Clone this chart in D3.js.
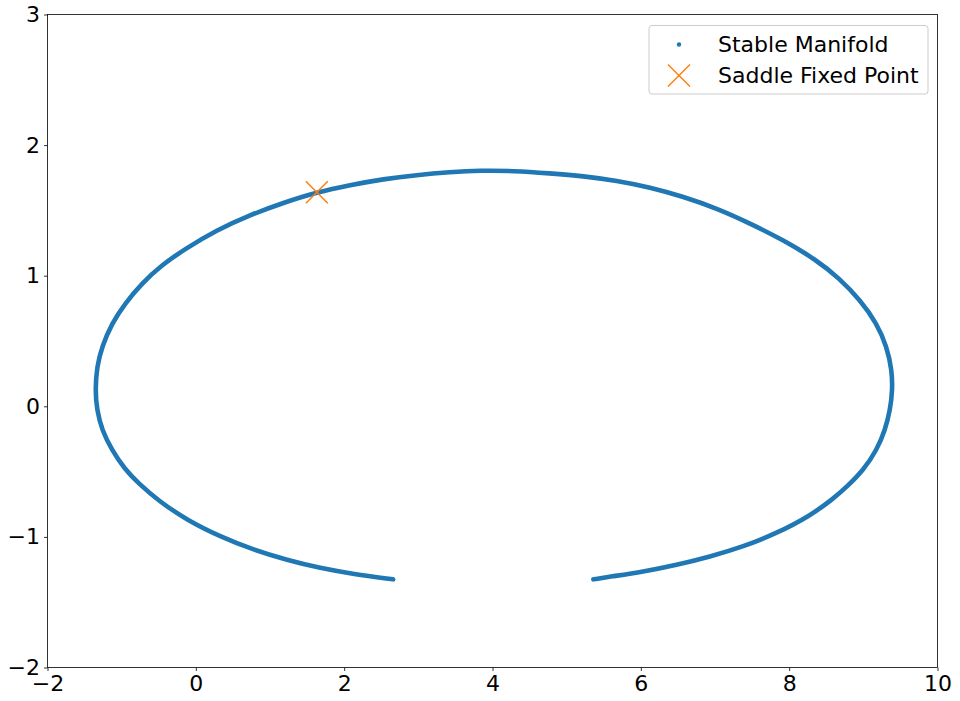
<!DOCTYPE html>
<html>
<head>
<meta charset="utf-8">
<script src="https://cdn.jsdelivr.net/npm/d3@7"></script>
<style>
  body { margin: 0; background: #fff; }
  text { font-family: "DejaVu Sans", sans-serif; }
</style>
</head>
<body>
<script>
// manifold points, ordered from the left tip round to the right tip
const manifoldX = [2.66, 2.12, 1.68, 1.23, 0.78, 0.33, -0.12, -0.50, -0.774, -0.96, -1.132, -1.267, -1.334, -1.357, -1.334, -1.267, -1.132, -0.953, -0.728, -0.458, -0.167, 0.283, 0.732, 1.181, 1.631, 2.08, 2.528, 2.978, 3.427, 3.83, 4.28, 4.774, 5.224, 5.674, 6.123, 6.572, 7.022, 7.471, 7.92, 8.369, 8.676, 8.957, 9.182, 9.317, 9.385, 9.393, 9.362, 9.294, 9.182, 9.002, 8.778, 8.60, 8.28, 7.83, 7.38, 6.93, 6.48, 6.03, 5.58, 5.36]
const manifoldY = [-1.325, -1.284, -1.24, -1.177, -1.10, -0.998, -0.871, -0.725, -0.59, -0.48, -0.335, -0.181, -0.028, 0.125, 0.303, 0.456, 0.636, 0.789, 0.942, 1.082, 1.197, 1.35, 1.465, 1.559, 1.639, 1.694, 1.74, 1.771, 1.793, 1.806, 1.803, 1.784, 1.763, 1.727, 1.677, 1.605, 1.516, 1.401, 1.273, 1.12, 0.98, 0.814, 0.636, 0.456, 0.278, 0.125, -0.028, -0.181, -0.335, -0.488, -0.616, -0.705, -0.84, -0.973, -1.075, -1.152, -1.215, -1.267, -1.305, -1.325]
const saddle = [1.631, 1.639]
const xTicks = [-2, 0, 2, 4, 6, 8, 10]
const yTicks = [-2, -1, 0, 1, 2, 3]
const legendLabels = ["Stable Manifold", "Saddle Fixed Point"]

let width = 960
let height = 701
let margin = { top: 14.5, right: 22.5, bottom: 33.5, left: 47.5 }

const blue = "#1f77b4"
const orange = "#ff7f0e"

const svg = d3.select("body")
  .append("svg")
  .attr("width", width)
  .attr("height", height)

var x = d3.scaleLinear()
  .domain([-2, 10])
  .range([margin.left, width - margin.right])

var y = d3.scaleLinear()
  .domain([-2, 3])
  .range([height - margin.bottom, margin.top])

// axes
const fmt = d => String(d).replace("-", "\u2212")

svg.append("g")
  .attr("transform", `translate(0,${height - margin.bottom})`)
  .call(d3.axisBottom(x).tickValues(xTicks).tickFormat(fmt).tickSizeOuter(0).tickSize(3.5).tickPadding(4))
svg.append("g")
  .attr("transform", `translate(${margin.left},0)`)
  .call(d3.axisLeft(y).tickValues(yTicks).tickFormat(fmt).tickSizeOuter(0).tickSize(3.5).tickPadding(4))

svg.selectAll(".tick text")
  .style("font-family", "DejaVu Sans")
  .style("font-size", "22px")
  .attr("fill", "#000")
svg.selectAll(".domain").remove()
svg.selectAll(".tick line").attr("stroke", "#000").attr("stroke-width", 0.8)

// frame
svg.append("rect")
  .attr("x", x(-2))
  .attr("y", y(3))
  .attr("width", x(10) - x(-2))
  .attr("height", y(-2) - y(3))
  .attr("fill", "none")
  .attr("stroke", "#000")
  .attr("stroke-width", 0.8)

// stable manifold (dense dots, drawn as a thick band)
const pts = manifoldX.map((d, i) => [d, manifoldY[i]])
const line = d3.line()
  .x(d => x(d[0]))
  .y(d => y(d[1]))
  .curve(d3.curveBasis)

svg.append("path")
  .datum(pts)
  .attr("d", line)
  .attr("fill", "none")
  .attr("stroke", blue)
  .attr("stroke-width", 4.6)
  .attr("stroke-linecap", "round")

// saddle marker
function cross(g, cx, cy, r) {
  g.append("path")
    .attr("d", `M${cx - r},${cy - r}L${cx + r},${cy + r}M${cx - r},${cy + r}L${cx + r},${cy - r}`)
    .attr("stroke", orange)
    .attr("stroke-width", 1.5)
    .attr("fill", "none")
}
cross(svg, x(saddle[0]), y(saddle[1]), 11)

// legend
const legend = svg.append("g")
legend.append("rect")
  .attr("x", 649)
  .attr("y", 25.5)
  .attr("width", 279)
  .attr("height", 68.5)
  .attr("rx", 3)
  .attr("fill", "#fff")
  .attr("fill-opacity", 0.8)
  .attr("stroke", "#ccc")
  .attr("stroke-width", 1)

legend.append("circle")
  .attr("cx", 679)
  .attr("cy", 44.5)
  .attr("r", 2.2)
  .attr("fill", blue)
cross(legend, 679, 75.5, 11)

legend.selectAll("text.lbl")
  .data(legendLabels)
  .join("text")
  .attr("class", "lbl")
  .attr("x", 718)
  .attr("y", (d, i) => 44.5 + i * 31)
  .attr("dy", "0.35em")
  .style("font-size", "22px")
  .attr("fill", "#000")
  .text(d => d)
</script>
</body>
</html>
